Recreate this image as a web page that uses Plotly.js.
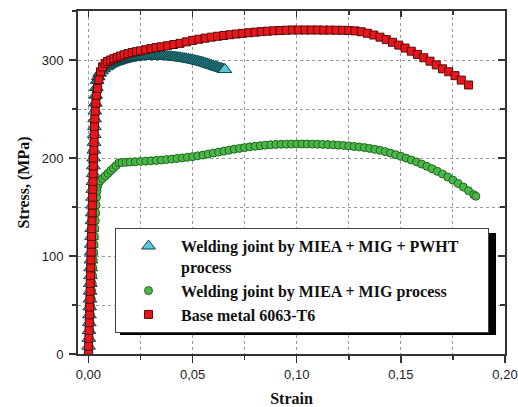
<!DOCTYPE html>
<html><head><meta charset="utf-8">
<script src="https://cdn.plot.ly/plotly-3.0.1.min.js"></script>
<style>html,body{margin:0;padding:0;background:#fff}#chart{width:518px;height:407px}</style>
</head><body><div id="chart"></div><script>
// Series names
const seriesNames = [
  'Welding joint by MIEA + MIG + PWHT&nbsp;&nbsp;&nbsp;&nbsp;&nbsp;&nbsp;<br>process',
  'Welding joint by MIEA + MIG process',
  'Base metal 6063-T6'
];
const xTickVals = [0, 0.05, 0.10, 0.15, 0.20];
const yTickVals = [0, 100, 200, 300];

// Welding joint by MIEA + MIG + PWHT process (strain, stress MPa)
const pwhtStrain = [0,0.0001,0.0002,0.0003,0.0004,0.0005,0.0006,0.0007,0.0008,0.0009,0.0010,0.0011,0.0012,0.0013,0.0014,0.0015,0.0016,0.0017,0.0018,0.0019,0.0020,0.0021,0.0022,0.0023,0.0024,0.0025,0.0026,0.0027,0.0028,0.0029,0.0030,0.0031,
  0.0033,0.0035,0.0038,0.0042,0.0047,0.0054,0.0063,0.0073,0.0085,0.0092,0.0100,0.0110,0.0120,0.0130,0.0140,0.0150,0.0160,0.0170,0.0180,0.0190,0.0200,0.0210,0.0220,0.0230,0.0240,0.0250,0.0260,0.0270,0.0280,0.0290,0.0300,0.0310,0.0320,0.0330,0.0340,0.0350,0.0360,0.0370,0.0380,0.0390,0.0400,0.0410,0.0420,0.0430,0.0440,0.0450,0.0460,0.0470,0.0480,0.0490,0.0500,0.0510,0.0520,0.0530,0.0540,0.0550,0.0560,0.0570,0.0580,0.0590,0.0600,0.0610,0.0620,0.0630,0.0640,0.0650,0.0655];
const pwhtStress = [0,8,16,24,32,40,48,56,64,72,80,88,96,104,112,120,128,136,144,152,160,168,176,184,192,200,208,216,224,232,240,248,
  256,264,272,279,283,286.5,289,291,293,294,295,296.1,297.1,297.9,298.6,299.3,300,300.6,301.1,301.6,302,302.4,302.7,303,303.3,303.5,303.7,303.8,303.9,304,304,304.1,304.1,304.1,304,304,303.9,303.8,303.6,303.4,303.2,303,302.8,302.5,302.2,301.9,301.6,301.2,300.8,300.4,300,299.5,299,298.5,298,297.4,296.8,296.1,295.4,294.7,294,293.3,292.6,291.9,291.2,290.5,290.3];

// Welding joint by MIEA + MIG process
const migStrain = [0,0.0002,0.0004,0.0006,0.0008,0.0010,0.0012,0.0014,0.0016,0.0018,0.0020,0.0021,0.0023,0.0025,0.0027,0.0029,0.0031,0.0033,0.0035,0.0037,0.0039,
  0.0041,0.0044,0.0048,0.0055,0.0068,0.0081,0.0094,0.0107,0.0120,0.0133,0.0146,0.0160,0.0180,0.0200,0.0225,0.0250,0.0275,0.0300,0.0325,0.0350,0.0375,0.0400,0.0425,0.0450,0.0475,0.0500,0.0525,0.0550,0.0575,0.0600,0.0625,0.0650,0.0675,0.0700,0.0725,0.0750,0.0775,0.0800,0.0825,0.0850,0.0875,0.0900,0.0925,0.0950,0.0975,0.1000,0.1025,0.1050,0.1075,0.1100,0.1125,0.1150,0.1175,0.1200,0.1225,0.1250,0.1275,0.1300,0.1325,0.1350,0.1375,0.1400,0.1425,0.1450,0.1475,0.1500,0.1525,0.1550,0.1575,0.1600,0.1625,0.1650,0.1675,0.1700,0.1725,0.1750,0.1775,0.1800,0.1825,0.1850,0.1860];
const migStress = [0,8,16,24,32,40,48,56,64,72,80,88,96,104,112,120,128,136,144,152,160,
  166,171,174,176.5,179,181.7,184.3,187,189.6,192.3,195,195.3,195.6,195.9,196.2,196.5,196.8,197.1,197.5,197.9,198.4,198.9,199.5,200.1,200.7,201.4,202.2,203,204,205,206,207,208,209,209.8,210.6,211.4,212,212.6,213.1,213.5,213.8,214,214.1,214.2,214.3,214.3,214.3,214.2,214.1,213.9,213.7,213.4,213.1,212.7,212.3,211.8,211.3,210.6,209.8,208.9,207.8,206.5,205,203.4,201.7,199.9,198,196,193.8,191.5,189,186.4,183.6,180.6,177.4,174,170.4,166.6,162.6,161];

// Base metal 6063-T6
const baseStrain = [0,0.0001,0.0002,0.0003,0.0004,0.0005,0.0006,0.0007,0.0008,0.0009,0.0010,0.0011,0.0012,0.0013,0.0014,0.0015,0.0016,0.0017,0.0018,0.0019,0.0020,0.0021,0.0022,0.0023,0.0024,0.0025,0.0026,0.0027,0.0028,0.0029,0.0031,0.0033,0.0036,0.0039,
  0.0044,0.0050,0.0058,0.0068,0.0080,0.0092,0.0106,0.0122,0.0138,0.0154,0.0172,0.0190,0.0210,0.0230,0.0250,0.0275,0.0300,0.0325,0.0350,0.0380,0.0410,0.0440,0.0470,0.0500,0.0530,0.0560,0.0590,0.0620,0.0650,0.0680,0.0710,0.0740,0.0770,0.0800,0.0830,0.0860,0.0890,0.0920,0.0950,0.0980,0.1010,0.1040,0.1070,0.1100,0.1130,0.1160,0.1190,0.1220,0.1250,0.1280,0.1310,0.1340,0.1370,0.1400,0.1430,0.1460,0.1490,0.1520,0.1550,0.1580,0.1610,0.1640,0.1670,0.1700,0.1730,0.1760,0.1790,0.1825];
const baseStress = [0,8,16,24,32,40,48,56,64,72,80,88,96,104,112,120,128,136,144,152,160,168,176,184,192,200,208,216,224,232,240,248,256,264,
  271,280,288,293,296.5,298.5,300,301.3,302.6,304,305.3,306.5,307.6,308.5,309.3,310.5,311.6,312.6,313.5,314.6,315.8,317,318.5,320,321.2,322.3,323.3,324.2,325,325.8,326.5,327.2,327.8,328.4,328.9,329.4,329.8,330.1,330.4,330.6,330.6,330.6,330.6,330.6,330.5,330.5,330.4,330.3,330.1,329.7,328.8,327.3,325.5,323.3,320.8,318.1,315.2,312.2,309,305.7,302.3,298.8,295,291,288,284,279.5,274.5];

// Dense overlapping triangles in the plastic part read as a dark teal band; elastic part keeps the light fill.
const pwhtColors = pwhtStress.map((s, i) => (i < 32 || i === pwhtStress.length - 1) ? '#5cc8d4' : '#24777a');

const traces = [
  {type:'scatter', mode:'markers', name:seriesNames[0], x:pwhtStrain, y:pwhtStress,
   marker:{symbol:'triangle-up', size:12, color:pwhtColors, line:{color:'#0b4a50', width:1}}},
  {type:'scatter', mode:'markers', name:seriesNames[1], x:migStrain, y:migStress,
   marker:{symbol:'circle', size:8, color:'#4cb64a', line:{color:'#1d6a1d', width:1}}},
  {type:'scatter', mode:'markers', name:seriesNames[2], x:baseStrain, y:baseStress,
   marker:{symbol:'square', size:8, color:'#e8161c', line:{color:'#5a0a0a', width:1}}},
  {type:'scatter', mode:'markers', x:[], y:[], xaxis:'x2', yaxis:'y2', showlegend:false, hoverinfo:'skip'}
];

const axisCol = '#333';
const gridCol = '#9a9a9a';
const tickFont = {family:'"Liberation Sans", Arial, sans-serif', size:13, color:'#222'};
const titleFont = {family:'"Liberation Serif", "Times New Roman", serif', size:16, weight:'bold', color:'#111'};

const layout = {
  width:518, height:407,
  margin:{l:78, r:13, t:11, b:53},
  paper_bgcolor:'#fff', plot_bgcolor:'#fff',
  separators:', ',
  showlegend:true,
  xaxis:{range:[-0.005,0.2], tickvals:xTickVals, tickformat:'.2f', ticks:'outside', ticklen:7, tickwidth:1.5, tickcolor:axisCol,
    showline:true, linecolor:axisCol, linewidth:2, mirror:true, zeroline:false,
    showgrid:true, gridcolor:gridCol, griddash:'dot', gridwidth:1,
    minor:{dtick:0.025, tick0:0, ticks:'outside', ticklen:4, tickwidth:1.5, tickcolor:axisCol, showgrid:true, gridcolor:gridCol, griddash:'dot', gridwidth:1},
    tickfont:tickFont, title:{text:'Strain', font:titleFont, standoff:14}},
  yaxis:{range:[0,350], tickvals:yTickVals, ticks:'outside', ticklen:7, tickwidth:1.5, tickcolor:axisCol, ticklabelstandoff:3,
    showline:true, linecolor:axisCol, linewidth:2, mirror:true, zeroline:false,
    showgrid:true, gridcolor:gridCol, griddash:'dot', gridwidth:1,
    minor:{dtick:50, tick0:0, ticks:'outside', ticklen:4, tickwidth:1.5, tickcolor:axisCol, showgrid:true, gridcolor:gridCol, griddash:'dot', gridwidth:1},
    tickfont:tickFont, title:{text:'Stress, (MPa)', font:titleFont, standoff:8}},
  xaxis2:{overlaying:'x', side:'top', anchor:'y2', range:[-0.005,0.2], tickvals:xTickVals, ticks:'inside', ticklen:6, tickwidth:1.5, tickcolor:axisCol,
    showticklabels:false, showgrid:false, showline:false, zeroline:false,
    minor:{dtick:0.025, tick0:0, ticks:'inside', ticklen:4, tickwidth:1.5, tickcolor:axisCol, showgrid:false}},
  yaxis2:{overlaying:'y', side:'right', anchor:'x2', range:[0,350], tickvals:yTickVals, ticks:'inside', ticklen:7, tickwidth:1.5, tickcolor:axisCol,
    showticklabels:false, showgrid:false, showline:false, zeroline:false,
    minor:{dtick:50, tick0:0, ticks:'inside', ticklen:5, tickwidth:1.5, tickcolor:axisCol, showgrid:false}},
  legend:{x:0.0867, y:0.367, xanchor:'left', yanchor:'top', bgcolor:'#fff', bordercolor:'#444', borderwidth:1,
    font:{family:'"Liberation Serif", "Times New Roman", serif', size:16, weight:'bold', color:'#111'},
    itemwidth:55, valign:'top', tracegroupgap:0},
  shapes:[{type:'rect', xref:'paper', yref:'paper', x0:0.0984, x1:0.979, y0:0.0554, y1:0.3528, fillcolor:'#000', line:{width:0}, layer:'above'}]
};

Plotly.newPlot('chart', traces, layout, {displayModeBar:false, staticPlot:true});
</script></body></html>
